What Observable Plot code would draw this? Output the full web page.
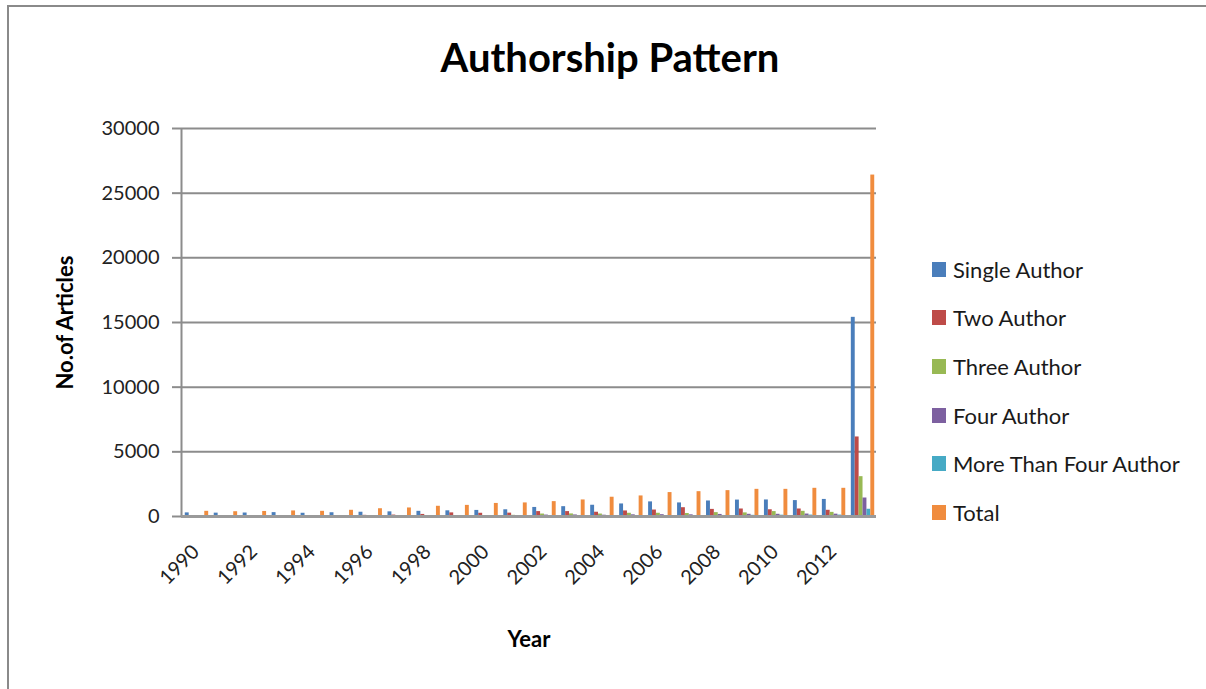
<!DOCTYPE html>
<html>
<head>
<meta charset="utf-8">
<script src="https://cdn.jsdelivr.net/npm/d3@7"></script>
<script src="https://cdn.jsdelivr.net/npm/@observablehq/plot@0.6"></script>
<style>
  html, body { margin: 0; padding: 0; background: #fff; }
  body { width: 1206px; height: 689px; position: relative; overflow: hidden; font-family: Lato, "Open Sans", sans-serif; }
  #frame { position: absolute; left: 7px; top: 5px; width: 1300px; height: 800px; border-left: 2px solid #8a8a8a; border-top: 2px solid #8a8a8a; pointer-events: none; }
  #title { position: absolute; top: 33px; left: 0; width: 1220px; text-align: center; font-size: 40px; font-weight: bold; color: #000; }
  #chart { position: absolute; left: 0; top: 0; }
  #legend { position: absolute; left: 932px; top: 245px; }
  .item { height: 48.6px; display: flex; align-items: center; font-size: 22px; color: #1a1a1a; }
  .sw { width: 14px; height: 15px; margin-right: 7px; }
  svg text { font-family: Lato, "Open Sans", sans-serif; }
  g[aria-label="y-axis label"] text, g[aria-label="x-axis label"] text { font-weight: bold; fill: #000; }
</style>
</head>
<body>
<div id="title">Authorship Pattern</div>
<div id="chart"></div>
<div id="legend"></div>
<div id="frame"></div>
<script>
// ---- data ----
const categories = ["1990","1991","1992","1993","1994","1995","1996","1997","1998","1999","2000","2001",
                    "2002","2003","2004","2005","2006","2007","2008","2009","2010","2011","2012","Total"];
const seriesNames = ["Single Author","Two Author","Three Author","Four Author","More Than Four Author","Total"];
const seriesColors = ["#4a7ebb","#be4b48","#98b954","#7d60a0","#46aac5","#f08c3e"];
const singleAuthor = [280, 260, 270, 300, 250, 290, 330, 360, 400, 440, 470, 520, 700, 760, 870, 970, 1130, 1050, 1200, 1270, 1280, 1230, 1320, 15400];
const twoAuthor    = [60, 50, 60, 70, 60, 70, 90, 110, 160, 280, 250, 260, 380, 380, 330, 430, 500, 680, 550, 580, 520, 580, 480, 6150];
const threeAuthor  = [20, 20, 20, 25, 25, 30, 30, 40, 50, 60, 70, 90, 190, 200, 190, 250, 250, 230, 300, 280, 380, 400, 320, 3080];
const fourAuthor   = [10, 10, 10, 10, 10, 10, 15, 15, 20, 25, 30, 40, 110, 120, 100, 130, 140, 130, 160, 170, 170, 190, 180, 1430];
const moreAuthor   = [5, 5, 5, 5, 5, 5, 5, 8, 10, 10, 15, 20, 40, 50, 50, 60, 70, 70, 80, 90, 100, 110, 110, 560];
const totalArticles= [400, 370, 390, 430, 400, 480, 600, 660, 790, 860, 1010, 1050, 1150, 1280, 1490, 1590, 1850, 1920, 2000, 2100, 2100, 2180, 2180, 26400];
const yTicks = [0, 5000, 10000, 15000, 20000, 25000, 30000];
const xTickLabels = ["1990","1992","1994","1996","1998","2000","2002","2004","2006","2008","2010","2012"];

const seriesValues = [singleAuthor, twoAuthor, threeAuthor, fourAuthor, moreAuthor, totalArticles];
const table = categories.map((c, i) => {
  const row = {year: c};
  seriesNames.forEach((s, k) => row[s] = seriesValues[k][i]);
  return row;
});

// ---- layout ----
const W = 1206, H = 689, ML = 181, MR = 330, MT = 128, MB = 173;
const bw = (W - ML - MR) / categories.length;
const barW = 3.9;
const groupW = barW * seriesNames.length;
const edge = (bw - groupW) / 2 + 1;

const barMarks = seriesNames.map((s, k) => Plot.barY(table, {
  x: "year", y: s, fill: seriesColors[k],
  insetLeft: edge + k * barW,
  insetRight: bw - (edge + k * barW) - barW
}));

const chart = Plot.plot({
  width: W, height: H,
  marginLeft: ML, marginRight: MR, marginTop: MT, marginBottom: MB,
  style: {fontSize: "20px", color: "#222", background: "transparent"},
  x: {domain: categories, padding: 0, round: false, axis: null},
  y: {domain: [0, 30000], axis: null},
  marks: [
    Plot.gridY(yTicks, {stroke: "#8c8c8c", strokeOpacity: 1, strokeWidth: 2}),
    Plot.ruleX([categories[0]], {y1: 0, y2: 30000, dx: -bw / 2, stroke: "#8c8c8c", strokeWidth: 2}),
    ...barMarks,
    Plot.ruleY([0], {stroke: "#9a9a9a", strokeWidth: 3}),
    Plot.axisY({ticks: yTicks, tickSize: 9, tickPadding: 13, stroke: "#8c8c8c", strokeWidth: 2, fontSize: 20,
                tickFormat: d => String(d),
                label: "No.of Articles", labelArrow: false, labelAnchor: "center", labelOffset: 124}),
    Plot.axisX({ticks: xTickLabels, tickRotate: -45, tickSize: 0, tickPadding: 32, fontSize: 20,
                label: "Year", labelArrow: false, labelAnchor: "center", labelOffset: 130})
  ]
});
document.getElementById("chart").appendChild(chart);

// axis label sizes
chart.querySelectorAll('g[aria-label="y-axis label"] text').forEach(t => t.setAttribute("font-size", "22"));
chart.querySelectorAll('g[aria-label="x-axis label"] text').forEach(t => t.setAttribute("font-size", "22"));

// legend
const legend = document.getElementById("legend");
seriesNames.forEach((s, k) => {
  const it = document.createElement("div");
  it.className = "item";
  it.innerHTML = `<div class="sw" style="background:${seriesColors[k]}"></div><span>${s}</span>`;
  legend.appendChild(it);
});
</script>
</body>
</html>
